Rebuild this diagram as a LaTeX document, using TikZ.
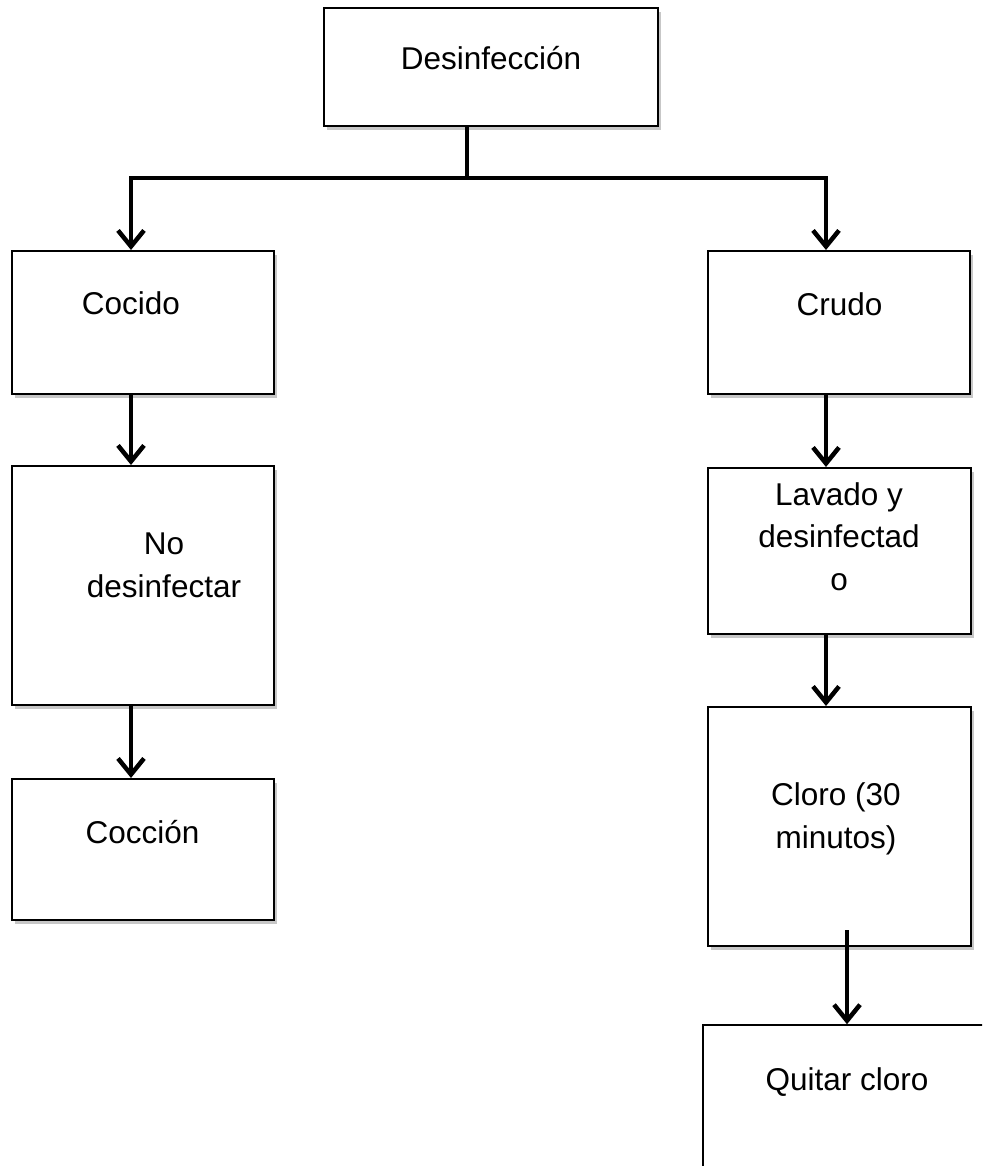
\documentclass[tikz,border=0pt]{standalone}
\usepackage{fontspec}
\setmainfont{Liberation Sans}
\usetikzlibrary{arrows.meta,shadows}

\tikzset{
  box/.style={draw=black, line width=2pt, fill=white, inner sep=0pt,
    drop shadow={shadow xshift=3pt, shadow yshift=-4pt, fill=black!22, opacity=1}},
  openbox/.style={draw=black, line width=1.5pt, fill=white, inner sep=0pt},
  label/.style={font=\fontsize{31.5}{42.5}\selectfont, inner sep=0pt, align=center, anchor=base},
  link/.style={line width=4.5pt},
  arr/.style={line width=4.5pt, -{Straight Barb[length=16pt, width=26pt]}},
}

\begin{document}
\begin{tikzpicture}[x=1pt, y=-1pt]
  \useasboundingbox (0,0) rectangle (982,1166);
  \fill[white] (0,0) rectangle (982,1166);
  \clip (0,0) rectangle (982,1166);

  % boxes
  \node[box, minimum width=334pt, minimum height=118pt] (top)     at (491,67)    {};
  \node[box, minimum width=262pt, minimum height=143pt] (cocido)  at (143,322.5) {};
  \node[box, minimum width=262pt, minimum height=239pt] (nodes)   at (143,585.5) {};
  \node[box, minimum width=262pt, minimum height=141pt] (coccion) at (143,849.5) {};
  \node[box, minimum width=262pt, minimum height=143pt] (crudo)   at (839,322.5) {};
  \node[box, minimum width=263pt, minimum height=166pt] (lavado)  at (839.5,551) {};
  \node[box, minimum width=263pt, minimum height=239pt] (cloro)   at (839.5,826.5) {};
  \node[openbox, minimum width=300pt, minimum height=180pt] (quitar) at (853,1115) {};

  % texts (anchor "base" is the baseline of the last line)
  \node[label] (t-top)     at (491,70)  {Desinfección};
  \node[label] (t-cocido)  at (131,314) {Cocido};
  \node[label] (t-nodes)   at (164,597) {No\\desinfectar};
  \node[label] (t-coccion) at (142.5,843) {Cocción};
  \node[label] (t-crudo)   at (839.5,315) {Crudo};
  \node[label] (t-lavado)  at (839,590) {Lavado y\\desinfectad\\o};
  \node[label] (t-cloro)   at (836,848) {Cloro (30\\minutos)};
  \node[label] (t-quitar)  at (847,1090) {Quitar cloro};

  % connectors
  \coordinate (split) at (467,178);
  \coordinate (colL)  at (131,178);
  \coordinate (colR)  at (826,178);
  \coordinate (drop)  at (847,930);

  \draw[link] (split |- top.south) -- (split);
  \draw[arr] (split) -- (colL) -- (colL |- cocido.north);
  \draw[arr] (split) -- (colR) -- (colR |- crudo.north);
  \draw[arr] (colL |- cocido.south) -- (colL |- nodes.north);
  \draw[arr] (colL |- nodes.south) -- (colL |- coccion.north);
  \draw[arr] (colR |- crudo.south) -- (colR |- lavado.north);
  \draw[arr] (colR |- lavado.south) -- (colR |- cloro.north);
  \draw[arr] (drop) -- (drop |- quitar.north);
\end{tikzpicture}
\end{document}
